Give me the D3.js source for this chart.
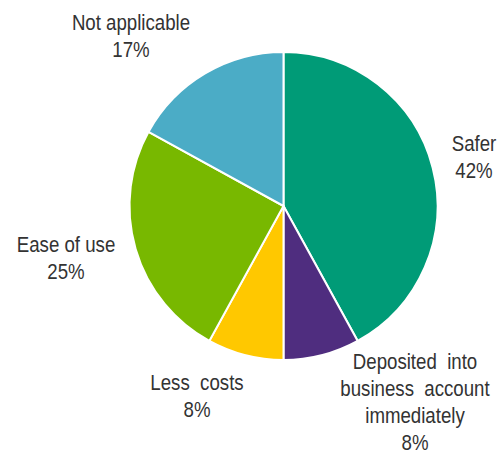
<!DOCTYPE html>
<html>
<head>
<meta charset="utf-8">
<script src="https://cdn.jsdelivr.net/npm/d3@7"></script>
<style>
  html, body { margin: 0; padding: 0; background: #ffffff; }
  svg { display: block; }
  text { font-family: "Liberation Sans", Arial, sans-serif; fill: #333333; }
</style>
</head>
<body>
<svg id="chart" width="498" height="454"></svg>
<script>
// Reasons for choosing the payment method (share of respondents)
const categories = ["Safer", "Deposited into business account immediately", "Less costs", "Ease of use", "Not applicable"];
const values = [42, 8, 8, 25, 17];
const colors = ["#009b77", "#4f2d7f", "#ffc800", "#78b800", "#4bacc6"];
// Label text lines (category wording split as printed) and label anchor points
const labelLines = [
  ["Safer"],
  ["Deposited  into", "business  account", "immediately"],
  ["Less  costs"],
  ["Ease of use"],
  ["Not applicable"]
];
const labelAnchors = [[474, 151], [415, 369], [197, 390], [66, 252], [131, 30]];

const svg = d3.select("#chart");
const cx = 283.5, cy = 206, radius = 154;

const pie = d3.pie().sort(null).value(d => d)(values);
const arc = d3.arc().innerRadius(0).outerRadius(radius);

const g = svg.append("g").attr("transform", `translate(${cx},${cy})`);
g.selectAll("path")
  .data(pie)
  .join("path")
  .attr("d", arc)
  .attr("fill", (d, i) => colors[i])
  .attr("stroke", "#ffffff")
  .attr("stroke-width", 2)
  .attr("stroke-linejoin", "miter");

const lineH = 27;
const labels = svg.selectAll("g.label")
  .data(pie)
  .join("g")
  .attr("class", "label")
  .attr("transform", (d, i) => `translate(${labelAnchors[i][0]},${labelAnchors[i][1]}) scale(0.83,1)`);

labels.each(function(d, i) {
  const lines = labelLines[i].concat([values[i] + "%"]);
  d3.select(this).selectAll("text")
    .data(lines)
    .join("text")
    .attr("x", 0)
    .attr("y", (t, k) => k * lineH)
    .attr("text-anchor", "middle")
    .attr("font-size", 22.5)
    .style("white-space", "pre")
    .attr("xml:space", "preserve")
    .text(t => t);
});
</script>
</body>
</html>
